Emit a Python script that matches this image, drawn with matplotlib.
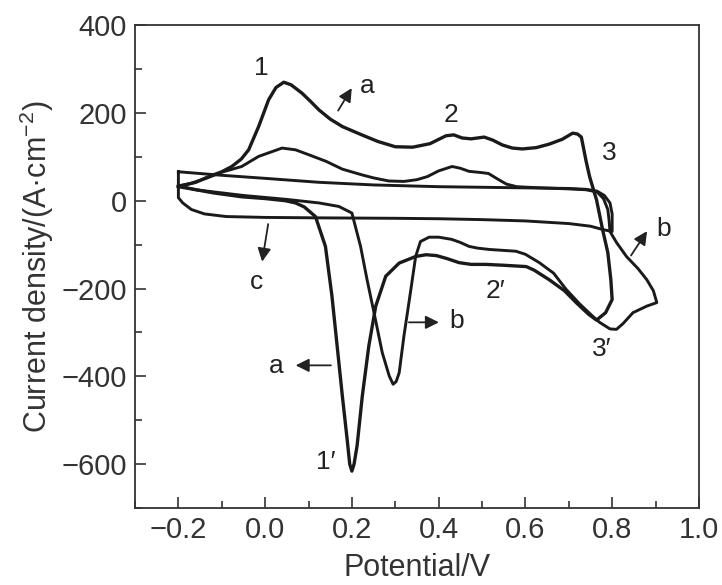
import matplotlib
matplotlib.use("Agg")
import matplotlib.pyplot as plt
from matplotlib.ticker import MultipleLocator

plt.rcParams["font.family"] = ["Liberation Sans", "DejaVu Sans"]
plt.rcParams["mathtext.fontset"] = "custom"
plt.rcParams["mathtext.rm"] = "Liberation Sans"
plt.rcParams["mathtext.default"] = "regular"

# curve a: reversal at 0.8 V (anodic branch then cathodic branch)
a_x = [-0.2, -0.16, -0.13, -0.1, -0.077, -0.055, -0.038, -0.015, 0.008, 0.025, 0.043, 0.06,
       0.085, 0.105, 0.124, 0.15, 0.178, 0.223, 0.26, 0.30, 0.34, 0.38, 0.417, 0.435, 0.454,
       0.475, 0.505, 0.525, 0.547, 0.57, 0.593, 0.625, 0.655, 0.685, 0.709, 0.72, 0.729,
       0.74, 0.748, 0.764, 0.778, 0.79, 0.797, 0.8,
       0.785, 0.764, 0.745, 0.717, 0.69, 0.655, 0.62, 0.602, 0.55, 0.509, 0.475, 0.447,
       0.42, 0.395, 0.371, 0.347, 0.309, 0.278, 0.255, 0.239, 0.224, 0.212, 0.205,
       0.2, 0.195, 0.189, 0.178, 0.166, 0.154, 0.139, 0.116, 0.09, 0.07, 0.047,
       0.0, -0.054, -0.12, -0.17, -0.2]
a_y = [32, 42, 55, 66, 78, 95, 116, 169, 230, 258, 270, 264,
       245, 226, 207, 186, 169, 150, 135, 123, 122, 130, 148, 150, 143,
       141, 145, 138, 127, 120, 118, 121, 129, 140, 154, 152, 145,
       90, 55, 2, -66, -118, -180, -225,
       -255, -272, -258, -232, -205, -180, -158, -150, -147, -145, -145, -141,
       -132, -125, -123, -127, -142, -172, -240, -331, -445, -558, -600,
       -616, -600, -543, -445, -331, -217, -104, -36, -14, -5, 0,
       5, 9, 18, 27, 32]

# curve b: reversal at 0.9 V
b_x = [-0.2, -0.17, -0.136, -0.1, -0.054, -0.015, 0.039, 0.07, 0.1, 0.14, 0.178, 0.223,
       0.25, 0.285, 0.32, 0.35, 0.374, 0.4, 0.431, 0.45, 0.47, 0.5, 0.515,
       0.535, 0.556, 0.58, 0.62, 0.7, 0.74, 0.765, 0.78, 0.79, 0.793, 0.795, 0.81, 0.833,
       0.86, 0.88, 0.895, 0.903,
       0.88, 0.848, 0.825, 0.81, 0.795, 0.771, 0.755, 0.725, 0.694, 0.665, 0.632, 0.6,
       0.578, 0.517, 0.49, 0.47, 0.45, 0.43, 0.4, 0.378, 0.358, 0.347, 0.336, 0.32,
       0.309, 0.302, 0.295, 0.286, 0.27, 0.251, 0.235, 0.22, 0.2, 0.17, 0.124,
       0.05, -0.05, -0.16, -0.2]
b_y = [34, 40, 51, 65, 78, 101, 120, 116, 105, 90, 72, 59,
       52, 45, 44, 48, 55, 68, 78, 74, 67, 64, 62,
       50, 38, 32, 30, 27, 25, 20, 5, -20, -45, -70, -95, -127,
       -155, -180, -205, -232,
       -240, -255, -280, -293, -292, -277, -263, -235, -202, -165, -141, -122,
       -115, -111, -108, -104, -95, -88, -83, -83, -93, -127, -202, -308,
       -392, -412, -418, -399, -346, -255, -180, -104, -28, -13, -5,
       3, 12, 25, 34]

# curve c: flat background loop
c_x = [-0.2, -0.1, 0.0, 0.124, 0.25, 0.4, 0.55, 0.7, 0.74, 0.765, 0.782, 0.795, 0.8, 0.8,
       0.78, 0.75, 0.7, 0.6, 0.5, 0.4, 0.3, 0.124, 0.0, -0.09, -0.14, -0.17, -0.19, -0.2,
       -0.2, -0.2]
c_y = [66, 58, 51, 42, 36, 32, 30, 28, 26, 22, 12, -5, -30, -70,
       -66, -58, -52, -46, -43, -41, -40, -39, -38, -36, -30, -20, -5, 7,
       40, 66]

fig, ax = plt.subplots(figsize=(7.22, 5.85), dpi=100)
fig.subplots_adjust(left=0.187, right=0.968, bottom=0.1316, top=0.957)

ax.plot(a_x, a_y, color="#1a1a1a", lw=2.4, solid_joinstyle="round")
ax.plot(b_x, b_y, color="#1a1a1a", lw=2.1, solid_joinstyle="round")
ax.plot(c_x, c_y, color="#1a1a1a", lw=2.1, solid_joinstyle="round")

ax.set_xlim(-0.3, 1.0)
ax.set_ylim(-700, 400)
ax.xaxis.set_minor_locator(MultipleLocator(0.1))
ax.yaxis.set_major_locator(MultipleLocator(200))
ax.yaxis.set_minor_locator(MultipleLocator(100))
ax.set_xticks([-0.2, 0.0, 0.2, 0.4, 0.6, 0.8, 1.0])
ax.set_xticklabels(["\u22120.2", "0.0", "0.2", "0.4", "0.6", "0.8", "1.0"])
ax.tick_params(which="both", direction="in", top=False, right=False, labelsize=21,
               width=1.2, colors="#333333")
ax.tick_params(which="major", length=8, pad=6)
ax.tick_params(which="minor", length=5)
for sp in ax.spines.values():
    sp.set_linewidth(1.3)
    sp.set_color("#333333")

ax.set_xlabel("Potential/V", fontsize=22, color="#333333", labelpad=6)
ax.set_ylabel("Current density/(A\u00b7cm$^{-2}$)", fontsize=22, color="#333333", labelpad=4)

txt = dict(fontsize=19, color="#222222", ha="center", va="center")
ax.text(-0.008, 302, "1", **txt)
ax.text(0.428, 195, "2", **txt)
ax.text(0.794, 109, "3", **txt)
ax.text(0.14, -596, "1\u2032", **txt)
ax.text(0.53, -205, "2\u2032", **txt)
ax.text(0.775, -338, "3\u2032", **txt)

arrow = dict(arrowstyle="-|>", color="#222222", lw=1.3, mutation_scale=20)
ax.annotate("", xy=(0.203, 262), xytext=(0.165, 200), arrowprops=arrow)
ax.text(0.235, 262, "a", **txt)
ax.annotate("", xy=(0.884, -64), xytext=(0.84, -130), arrowprops=arrow)
ax.text(0.918, -64, "b", **txt)
ax.annotate("", xy=(-0.008, -145), xytext=(0.008, -47), arrowprops=arrow)
ax.text(-0.02, -186, "c", **txt)
ax.annotate("", xy=(0.064, -375), xytext=(0.158, -375), arrowprops=arrow)
ax.text(0.026, -377, "a", **txt)
ax.annotate("", xy=(0.407, -277), xytext=(0.325, -277), arrowprops=arrow)
ax.text(0.442, -275, "b", **txt)

fig.savefig("out.png", dpi=100)
